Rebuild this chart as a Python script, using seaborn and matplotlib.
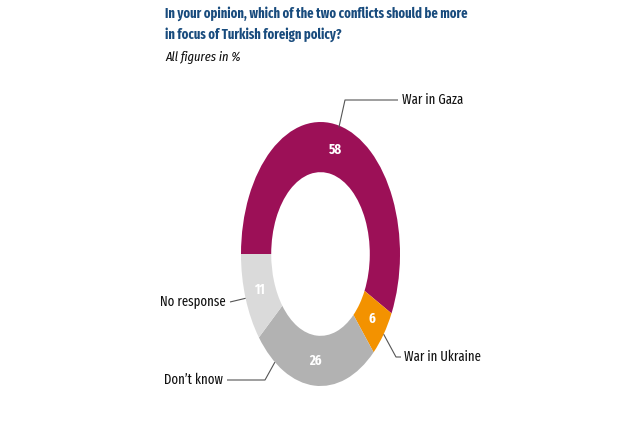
import numpy as np
import matplotlib
matplotlib.use("Agg")
import matplotlib.pyplot as plt
import seaborn as sns

# data
categories = ["War in Gaza", "War in Ukraine", "Don\u2019t know", "No response"]
shares = [58, 6, 26, 11]
colors = ["#9C1057", "#F39200", "#B2B2B2", "#DADADA"]

title = "In your opinion, which of the two conflicts should be more\nin focus of Turkish foreign policy?"
subtitle = "All figures in %"

sns.set_theme(style="white")
plt.rcParams["font.family"] = ["Fira Sans Extra Condensed", "Fira Sans Condensed", "DejaVu Sans"]

W, H = 640, 430
fig = plt.figure(figsize=(6.4, 4.3), dpi=100)
fig.patch.set_facecolor("white")

# pie axes covers the (vertically stretched) donut's bounding box
left, right, top, bottom = 241, 400, 122, 386
ax = fig.add_axes([left / W, (H - bottom) / H, (right - left) / W, (bottom - top) / H])
wedges, _ = ax.pie(shares, colors=colors, startangle=180, counterclock=False,
                   radius=1.0, wedgeprops=dict(width=0.38, linewidth=0))
ax.set_aspect("auto")
ax.set_xlim(-1, 1)
ax.set_ylim(-1, 1)
ax.axis("off")

def px(x, y):
    # figure pixel (top-left origin) -> pie data coords
    return ax.transData.inverted().transform((x, H - y))

for w, v in zip(wedges, shares):
    mid = np.deg2rad((w.theta1 + w.theta2) / 2)
    ax.text(0.81 * np.cos(mid), 0.81 * np.sin(mid), str(v), color="white",
            fontsize=10, fontweight="bold", ha="center", va="center")

def edge(theta_deg):
    t = np.deg2rad(theta_deg)
    return np.cos(t), np.sin(t)

mids = [(w.theta1 + w.theta2) / 2 for w in wedges]
line_kw = dict(color="#555555", lw=0.8, solid_capstyle="butt")
lab_kw = dict(fontsize=10, color="#111111", va="center")

# War in Gaza
a = edge(mids[0]); b = px(345, 100); c = px(398, 100)
ax.plot([a[0], b[0], c[0]], [a[1] * 0.985, b[1], c[1]], clip_on=False, **line_kw)
ax.text(*px(402, 100), categories[0], ha="left", **lab_kw)

# War in Ukraine
a = edge(mids[1]); b = px(396, 357); c = px(401, 357)
ax.plot([a[0], b[0], c[0]], [a[1], b[1], c[1]], clip_on=False, **line_kw)
ax.text(*px(404, 357), categories[1], ha="left", **lab_kw)

# Don't know
a = edge(-125); b = px(265, 380); c = px(227, 380)
ax.plot([a[0], b[0], c[0]], [a[1], b[1], c[1]], clip_on=False, **line_kw)
ax.text(*px(223, 380), categories[2], ha="right", **lab_kw)

# No response
a = edge(mids[3]); c = px(230, 302)
ax.plot([a[0], c[0]], [a[1], c[1]], clip_on=False, **line_kw)
ax.text(*px(226, 301), categories[3], ha="right", **lab_kw)

fig.text(165 / W, 1 - 6 / H, title, ha="left", va="top", fontsize=9.8,
         fontweight="bold", color="#184B7D", linespacing=1.6)
fig.text(165 / W, 1 - 58 / H, subtitle, ha="left", va="center", fontsize=9.8,
         style="italic", color="#111111")

fig.savefig("out.png", dpi=100, facecolor="white")
